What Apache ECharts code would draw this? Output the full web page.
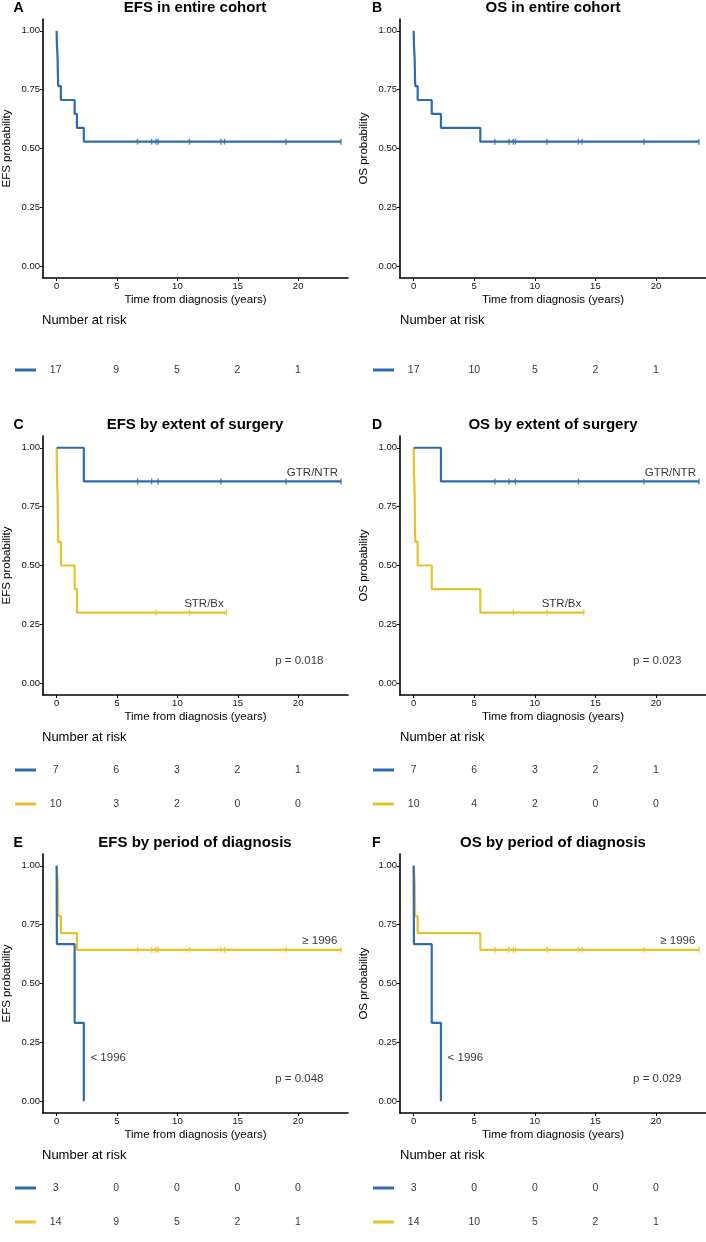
<!DOCTYPE html>
<html>
<head>
<meta charset="utf-8">
<script src="https://cdn.jsdelivr.net/npm/echarts@6/dist/echarts.min.js"></script>
<style>
html,body{margin:0;padding:0;background:#fff;}
#chart{width:706px;height:1242px;}
</style>
</head>
<body>
<div id="chart"></div>
<script>
// ---------------- data ----------------
const timeTicks = [0, 5, 10, 15, 20];
const probTicks = [0, 0.25, 0.5, 0.75, 1];

// common censoring times (years)
const censAll = [6.7, 7.87, 8.22, 8.4, 11.0, 13.6, 13.9, 19.0, 23.55];
const censGTR = [6.7, 7.87, 8.4, 13.6, 19.0, 23.55];
const censSTR = [8.22, 11.0, 14.05];

// A: EFS entire cohort
const efsAllT = [0, 0.02, 0.08, 0.1, 0.13, 0.35, 1.49, 1.68, 2.25];
const efsAllS = [1, 0.941, 0.882, 0.824, 0.765, 0.706, 0.647, 0.588, 0.529];
const riskA = [17, 9, 5, 2, 1];

// B: OS entire cohort
const osAllT = [0, 0.02, 0.08, 0.1, 0.13, 0.33, 1.49, 2.25, 5.5];
const osAllS = [1, 0.941, 0.882, 0.824, 0.765, 0.706, 0.647, 0.588, 0.529];
const riskB = [17, 10, 5, 2, 1];

// C: EFS by extent of surgery
const efsGtrT = [0, 2.25];
const efsGtrS = [1, 0.857];
const efsStrT = [0, 0.02, 0.08, 0.1, 0.13, 0.35, 1.49, 1.68];
const efsStrS = [1, 0.9, 0.8, 0.7, 0.6, 0.5, 0.4, 0.3];
const riskCgtr = [7, 6, 3, 2, 1];
const riskCstr = [10, 3, 2, 0, 0];

// D: OS by extent of surgery
const osGtrT = [0, 2.25];
const osGtrS = [1, 0.857];
const osStrT = [0, 0.02, 0.08, 0.1, 0.13, 0.33, 1.49, 5.5];
const osStrS = [1, 0.9, 0.8, 0.7, 0.6, 0.5, 0.4, 0.3];
const riskDgtr = [7, 6, 3, 2, 1];
const riskDstr = [10, 4, 2, 0, 0];

// E: EFS by period of diagnosis
const efsEarlyT = [0, 0.02, 1.49, 2.25];
const efsEarlyS = [1, 0.667, 0.333, 0];
const efsLateT = [0, 0.08, 0.1, 0.13, 0.35, 1.68];
const efsLateS = [1, 0.929, 0.857, 0.786, 0.714, 0.643];
const riskEearly = [3, 0, 0, 0, 0];
const riskElate = [14, 9, 5, 2, 1];

// F: OS by period of diagnosis
const osEarlyT = [0, 0.02, 1.49, 2.25];
const osEarlyS = [1, 0.667, 0.333, 0];
const osLateT = [0, 0.08, 0.1, 0.13, 0.33, 5.5];
const osLateS = [1, 0.929, 0.857, 0.786, 0.714, 0.643];
const riskFearly = [3, 0, 0, 0, 0];
const riskFlate = [14, 10, 5, 2, 1];

const pValues = ['', '', 'p = 0.018', 'p = 0.023', 'p = 0.048', 'p = 0.029'];

// ---------------- styling / layout ----------------
const BLUE = '#2E6DAB', YELLOW = '#E8C22E';
const FONT = '"Liberation Sans", Arial, Helvetica, sans-serif';
const colLeft = [42, 400];
const plotW = 306;
const rowTop = [19, 436, 854];
const plotH = 259;
const xMin = -1.13, xMax = 24.13;

const panels = [
  {letter:'A', title:'EFS in entire cohort', ylab:'EFS probability', col:0, row:0,
   groups:[{t:efsAllT, s:efsAllS, end:23.55, cens:censAll, color:BLUE, risk:riskA}]},
  {letter:'B', title:'OS in entire cohort', ylab:'OS probability', col:1, row:0,
   groups:[{t:osAllT, s:osAllS, end:23.55, cens:censAll, color:BLUE, risk:riskB}]},
  {letter:'C', title:'EFS by extent of surgery', ylab:'EFS probability', col:0, row:1,
   groups:[{t:efsGtrT, s:efsGtrS, end:23.55, cens:censGTR, color:BLUE, risk:riskCgtr, name:'GTR/NTR', lx:23.3, ly:0.892, align:'right'},
           {t:efsStrT, s:efsStrS, end:14.05, cens:censSTR, color:YELLOW, risk:riskCstr, name:'STR/Bx', lx:12.2, ly:0.337, align:'center'}]},
  {letter:'D', title:'OS by extent of surgery', ylab:'OS probability', col:1, row:1,
   groups:[{t:osGtrT, s:osGtrS, end:23.55, cens:censGTR, color:BLUE, risk:riskDgtr, name:'GTR/NTR', lx:23.3, ly:0.892, align:'right'},
           {t:osStrT, s:osStrS, end:14.05, cens:censSTR, color:YELLOW, risk:riskDstr, name:'STR/Bx', lx:12.2, ly:0.337, align:'center'}]},
  {letter:'E', title:'EFS by period of diagnosis', ylab:'EFS probability', col:0, row:2,
   groups:[{t:efsEarlyT, s:efsEarlyS, end:2.25, cens:[], color:BLUE, risk:riskEearly, name:'< 1996', lx:2.8, ly:0.183, align:'left'},
           {t:efsLateT, s:efsLateS, end:23.55, cens:censAll, color:YELLOW, risk:riskElate, name:'\u2265 1996', lx:23.25, ly:0.681, align:'right'}]},
  {letter:'F', title:'OS by period of diagnosis', ylab:'OS probability', col:1, row:2,
   groups:[{t:osEarlyT, s:osEarlyS, end:2.25, cens:[], color:BLUE, risk:riskFearly, name:'< 1996', lx:2.8, ly:0.183, align:'left'},
           {t:osLateT, s:osLateS, end:23.55, cens:censAll, color:YELLOW, risk:riskFlate, name:'\u2265 1996', lx:23.25, ly:0.681, align:'right'}]}
];

function survAt(g, x) {
  let v = g.s[0];
  for (let i = 0; i < g.t.length; i++) { if (g.t[i] <= x) v = g.s[i]; }
  return v;
}

const grid = [], xAxis = [], yAxis = [], series = [], graphic = [];

panels.forEach((p, pi) => {
  const left = colLeft[p.col], top = rowTop[p.row];
  const gi = pi * 2;
  // plot grid
  grid.push({left: left, top: top, width: plotW, height: plotH});
  xAxis.push({
    type:'value', gridIndex: gi, min: xMin, max: xMax,
    name:'Time from diagnosis (years)', nameLocation:'middle', nameGap: 16,
    nameTextStyle:{fontSize:11.5, color:'#000', fontFamily:FONT},
    axisLine:{show:true, onZero:false, lineStyle:{color:'#000', width:1.6}},
    axisTick:{show:true, length:3, customValues: timeTicks, lineStyle:{color:'#000', width:1}},
    axisLabel:{customValues: timeTicks, fontSize:9.5, color:'#111', margin:3, fontFamily:FONT},
    splitLine:{show:false}
  });
  yAxis.push({
    type:'value', gridIndex: gi, min:-0.05, max:1.05,
    name:p.ylab, nameLocation:'middle', nameGap: 30,
    nameTextStyle:{fontSize:11.5, color:'#000', fontFamily:FONT},
    axisLine:{show:true, onZero:false, lineStyle:{color:'#000', width:1.6}},
    axisTick:{show:true, length:3, customValues: probTicks, lineStyle:{color:'#000', width:1}},
    axisLabel:{customValues: probTicks, fontSize:9.5, color:'#111', margin:3, fontFamily:FONT,
               formatter: v => v.toFixed(2)},
    splitLine:{show:false}
  });
  // risk grid
  const nG = p.groups.length;
  grid.push({left: left, top: top + 317, width: plotW, height: 68});
  xAxis.push({type:'value', gridIndex: gi + 1, min:xMin, max:xMax, show:false, splitLine:{show:false}});
  const rich = {};
  p.groups.forEach((g, k) => { rich['g' + k] = {backgroundColor: g.color, width: 21, height: 3, fontSize: 1, lineHeight: 3}; });
  yAxis.push({
    type:'category', gridIndex: gi + 1, inverse: true,
    data: p.groups.map((g, k) => 'g' + k),
    axisLine:{show:false}, axisTick:{show:false}, splitLine:{show:false},
    axisLabel:{margin:6, rich: rich, formatter: (v) => '{' + v + '| }'}
  });

  p.groups.forEach((g, k) => {
    const pts = g.t.map((x, i) => [x, g.s[i]]);
    if (g.end > g.t[g.t.length - 1]) pts.push([g.end, g.s[g.s.length - 1]]);
    series.push({type:'line', xAxisIndex: gi, yAxisIndex: gi, data: pts, step:'end',
      showSymbol:false, symbol:'none', lineStyle:{color:g.color, width:2.2}, itemStyle:{color:g.color},
      z: 3 + (nG - k), animation:false});
    if (g.cens.length) {
      series.push({type:'scatter', xAxisIndex: gi, yAxisIndex: gi,
        data: g.cens.map(c => [c, survAt(g, c)]),
        symbol:'rect', symbolSize:[1.4, 6], itemStyle:{color:g.color}, z: 4, animation:false});
    }
    // risk numbers
    series.push({type:'scatter', xAxisIndex: gi + 1, yAxisIndex: gi + 1,
      data: g.risk.map((n, i) => [timeTicks[i], 'g' + k, n]),
      symbolSize: 0,
      label:{show:true, position:'inside', formatter: q => String(q.value[2]),
             fontSize:10.5, color:'#000', fontFamily:FONT},
      animation:false});
    // group label
    if (g.name) {
      series.push({type:'scatter', xAxisIndex: gi, yAxisIndex: gi,
        data: [[g.lx, g.ly]], symbolSize: 0,
        label:{show:true, position:'inside', align: g.align, formatter: g.name,
               fontSize:11.5, color:'#000', fontFamily:FONT},
        animation:false, z: 6});
    }
  });
  if (pValues[pi]) {
    series.push({type:'scatter', xAxisIndex: gi, yAxisIndex: gi,
      data: [[20.1, 0.096]], symbolSize: 0,
      label:{show:true, position:'inside', align:'center', formatter: pValues[pi],
             fontSize:11.5, color:'#000', fontFamily:FONT},
      animation:false, z: 6});
  }

  // titles and annotations
  graphic.push({type:'text', x: left + plotW / 2, y: top - 11,
    style:{text:p.title, font:'bold 15px ' + FONT, fill:'#000', textAlign:'center', textVerticalAlign:'middle'}});
  graphic.push({type:'text', x: p.col === 0 ? 13.5 : 372, y: top - 11,
    style:{text:p.letter, font:'bold 14px ' + FONT, fill:'#000', textAlign:'left', textVerticalAlign:'middle'}});
  graphic.push({type:'text', x: left, y: top + 301,
    style:{text:'Number at risk', font:'13px ' + FONT, fill:'#000', textAlign:'left', textVerticalAlign:'middle'}});
});

const chart = echarts.init(document.getElementById('chart'), null, {renderer:'canvas'});
chart.setOption({
  backgroundColor:'#ffffff',
  animation:false,
  grid, xAxis, yAxis, series, graphic
});
</script>
</body>
</html>
